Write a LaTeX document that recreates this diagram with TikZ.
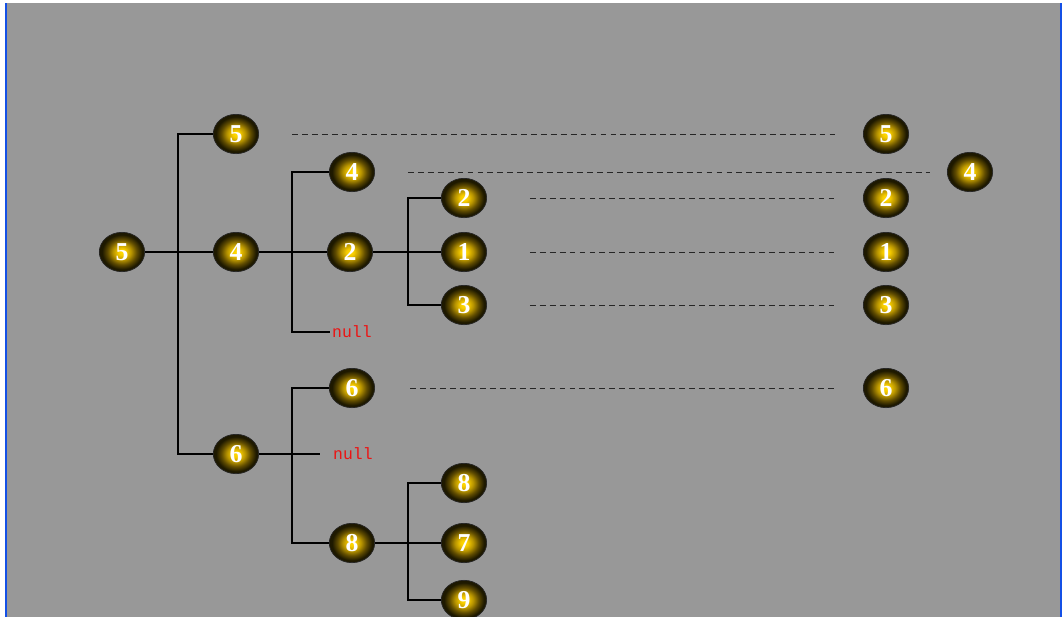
\documentclass[tikz,border=0pt]{standalone}
\usepackage{fontspec}
\usetikzlibrary{shapes.geometric}
\newfontfamily\nilmono{Liberation Mono}
\newfontfamily\ballserif{Liberation Serif}
\definecolor{bgGray}{RGB}{152,152,152}
\definecolor{edgeBlue}{RGB}{20,80,230}
\definecolor{nullRed}{RGB}{235,20,20}
\pgfdeclareradialshading{goldball}{\pgfpoint{0bp}{0bp}}{%
  rgb(0bp)=(1,0.86,0);
  rgb(4bp)=(0.97,0.80,0);
  rgb(10bp)=(0.72,0.58,0);
  rgb(16bp)=(0.38,0.30,0);
  rgb(22bp)=(0.12,0.10,0);
  rgb(50bp)=(0.05,0.04,0)}
\tikzset{
  ball/.style={ellipse, shading=goldball, draw=black!85, line width=0.6pt,
    minimum width=1.36cm, minimum height=1.18cm, inner sep=0pt,
    text=white, font=\ballserif\fontsize{22}{22}\selectfont\bfseries},
  nulltxt/.style={anchor=west, inner sep=0pt, text=nullRed,
    font=\nilmono\fontsize{14}{14}\selectfont},
  link/.style={line width=1.6pt, black},
  dline/.style={dashed, dash pattern=on 5pt off 3.5pt, line width=0.7pt, black!85}
}
\begin{document}
\begin{tikzpicture}[x=0.03cm,y=-0.03cm]
\useasboundingbox (0,0) rectangle (1062,617);
\fill[white] (0,0) rectangle (1062,617);
\fill[bgGray] (7,3) rectangle (1060,617);
\fill[edgeBlue] (5,3) rectangle (7,617);
\fill[edgeBlue] (1060,3) rectangle (1062,617);
% tree
\node[ball] (r5) at (122,252) {5};
\node[ball] (a5) at (236,134) {5};
\node[ball] (a4) at (236,252) {4};
\node[ball] (a6) at (236,454) {6};
\node[ball] (b4) at (352,172) {4};
\node[ball] (b2) at (350,252) {2};
\node[nulltxt] (n1) at (332,332) {null};
\node[ball] (b6) at (352,388) {6};
\node[nulltxt] (n2) at (333,454) {null};
\node[ball] (b8) at (352,543) {8};
\node[ball] (c2) at (464,198) {2};
\node[ball] (c1) at (464,252) {1};
\node[ball] (c3) at (464,305) {3};
\node[ball] (c8) at (464,483) {8};
\node[ball] (c7) at (464,543) {7};
\node[ball] (c9) at (464,600) {9};
% list on the right
\node[ball] (d5) at (886,134) {5};
\node[ball] (d4) at (970,172) {4};
\node[ball] (d2) at (886,198) {2};
\node[ball] (d1) at (886,252) {1};
\node[ball] (d3) at (886,305) {3};
\node[ball] (d6) at (886,388) {6};
% junctions
\coordinate (j1) at (178,252);
\coordinate (j2) at (292,252);
\coordinate (j3) at (292,454);
\coordinate (j4) at (408,252);
\coordinate (j5) at (408,543);
\draw[link] (r5) -- (a4);
\draw[link] (a5) -| (j1) |- (a6);
\draw[link] (a4) -- (b2);
\draw[link] (b4) -| (j2) |- ([xshift=-2pt]n1.west);
\draw[link] (a6) -- ([xshift=-11pt]n2.west);
\draw[link] (b6) -| (j3) |- (b8);
\draw[link] (b2) -- (c1);
\draw[link] (c2) -| (j4) |- (c3);
\draw[link] (b8) -- (c7);
\draw[link] (c8) -| (j5) |- (c9);
% dashed links
\draw[dline, shorten <=28pt, shorten >=23pt] (a5) -- (d5);
\draw[dline, shorten <=28pt, shorten >=14.5pt] (b4) -- (d4);
\draw[dline, shorten <=36.5pt, shorten >=23pt] (c2) -- (d2);
\draw[dline, shorten <=36.5pt, shorten >=23pt] (c1) -- (d1);
\draw[dline, shorten <=36.5pt, shorten >=23pt] (c3) -- (d3);
\draw[dline, shorten <=30pt, shorten >=23pt] (b6) -- (d6);
\end{tikzpicture}
\end{document}
